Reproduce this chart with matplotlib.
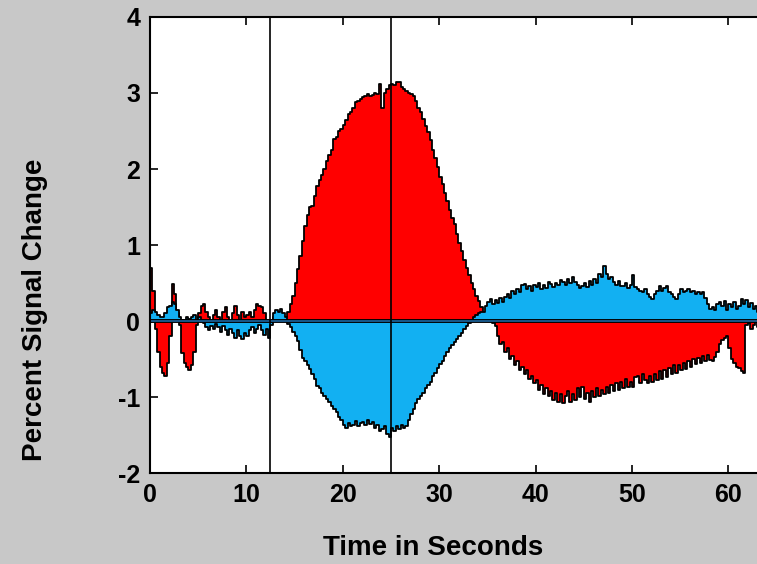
import numpy as np
import matplotlib.pyplot as plt

# percent signal change, sampled every 0.25 s
step = 0.25

red_signal = [
    0.70, 0.40, -0.10, -0.40, -0.60, -0.68, -0.72, -0.55, -0.20, 0.49, 0.35, 0.10, -0.05, -0.42, -0.55, -0.60, -0.64, -0.58, -0.40, -0.05,
    0.10, 0.20, 0.22, 0.12, 0.05, -0.05, 0.08, 0.15, 0.05, -0.08, 0.12, 0.18, 0.05, -0.05, 0.10, 0.20, 0.08, -0.02, 0.12, 0.05,
    0.08, 0.12, 0.05, 0.15, 0.22, 0.20, 0.18, 0.10, 0.02, -0.05, 0.00, 0.05, 0.02, 0.05, 0.08, 0.04, 0.05, 0.12, 0.22, 0.33,
    0.50, 0.68, 0.86, 1.05, 1.25, 1.40, 1.50, 1.52, 1.65, 1.78, 1.86, 1.92, 2.00, 2.10, 2.18, 2.25, 2.40, 2.42, 2.50, 2.53,
    2.58, 2.65, 2.72, 2.75, 2.80, 2.88, 2.90, 2.92, 2.95, 2.96, 2.98, 2.96, 2.97, 3.00, 2.98, 3.12, 2.80, 3.00, 3.05, 3.10,
    3.12, 3.10, 3.15, 3.14, 3.08, 3.05, 3.02, 3.00, 2.98, 2.96, 2.90, 2.80, 2.75, 2.66, 2.57, 2.49, 2.38, 2.25, 2.15, 2.02,
    1.90, 1.80, 1.68, 1.58, 1.46, 1.36, 1.28, 1.15, 1.03, 0.92, 0.80, 0.70, 0.60, 0.50, 0.42, 0.33, 0.26, 0.18, 0.05, 0.10,
    0.02, 0.00, -0.02, -0.06, -0.20, -0.30, -0.28, -0.40, -0.36, -0.50, -0.46, -0.58, -0.52, -0.64, -0.60, -0.70, -0.64, -0.76, -0.72, -0.82,
    -0.78, -0.90, -0.84, -0.96, -0.88, -0.98, -0.92, -1.04, -0.94, -1.06, -0.96, -1.08, -0.98, -0.92, -1.06, -0.96, -1.04, -0.88, -1.00, -0.86,
    -1.02, -0.94, -1.06, -0.92, -1.00, -0.88, -0.98, -0.90, -0.96, -0.86, -0.94, -0.84, -0.92, -0.82, -0.90, -0.80, -0.88, -0.76, -0.86, -0.80,
    -0.86, -0.74, -0.72, -0.82, -0.70, -0.78, -0.82, -0.72, -0.80, -0.70, -0.78, -0.66, -0.76, -0.64, -0.74, -0.62, -0.70, -0.58, -0.68, -0.58,
    -0.64, -0.55, -0.63, -0.52, -0.60, -0.50, -0.57, -0.48, -0.55, -0.46, -0.53, -0.45, -0.51, -0.53, -0.47, -0.40, -0.30, -0.25, -0.22, -0.20,
    -0.35, -0.50, -0.55, -0.60, -0.62, -0.66, -0.68, -0.05, -0.02, -0.10, -0.05, 0.05, -0.08, 0.10, 0.05,
]

blue_signal = [
    0.10, 0.15, 0.12, 0.08, 0.06, 0.05, 0.10, 0.18, 0.20, 0.25, 0.22, 0.15, 0.05, 0.02, 0.00, 0.05, 0.03, 0.05, 0.08, 0.02,
    0.05, 0.02, -0.03, -0.08, -0.12, -0.06, -0.10, -0.04, -0.08, -0.14, -0.06, -0.12, -0.18, -0.10, -0.16, -0.22, -0.12, -0.20, -0.24, -0.15,
    -0.20, -0.12, -0.08, -0.15, -0.10, -0.05, -0.12, -0.18, -0.10, -0.22, -0.05, 0.10, 0.15, 0.12, 0.16, 0.10, 0.05, -0.04, -0.08, -0.14,
    -0.20, -0.26, -0.38, -0.48, -0.52, -0.58, -0.63, -0.70, -0.76, -0.85, -0.88, -0.95, -0.98, -1.02, -1.06, -1.12, -1.16, -1.20, -1.26, -1.30,
    -1.36, -1.40, -1.34, -1.38, -1.36, -1.32, -1.38, -1.34, -1.33, -1.36, -1.30, -1.35, -1.33, -1.40, -1.36, -1.44, -1.42, -1.38, -1.48, -1.53,
    -1.40, -1.45, -1.38, -1.42, -1.36, -1.40, -1.38, -1.30, -1.22, -1.16, -1.08, -1.02, -0.98, -0.94, -0.88, -0.84, -0.80, -0.72, -0.68, -0.62,
    -0.56, -0.52, -0.46, -0.41, -0.36, -0.32, -0.28, -0.24, -0.20, -0.15, -0.10, -0.06, -0.02, 0.02, 0.05, 0.08, 0.10, 0.12, 0.12, 0.20,
    0.25, 0.29, 0.22, 0.28, 0.24, 0.30, 0.25, 0.32, 0.35, 0.30, 0.40, 0.36, 0.42, 0.38, 0.48, 0.49, 0.42, 0.46, 0.40, 0.47,
    0.45, 0.50, 0.42, 0.48, 0.44, 0.52, 0.49, 0.45, 0.50, 0.47, 0.54, 0.51, 0.48, 0.55, 0.50, 0.58, 0.52, 0.48, 0.44, 0.46,
    0.50, 0.45, 0.53, 0.48, 0.55, 0.50, 0.62, 0.58, 0.73, 0.62, 0.55, 0.58, 0.51, 0.48, 0.53, 0.46, 0.46, 0.50, 0.44, 0.48,
    0.60, 0.45, 0.42, 0.40, 0.38, 0.42, 0.35, 0.32, 0.29, 0.35, 0.40, 0.46, 0.40, 0.44, 0.46, 0.38, 0.35, 0.32, 0.29, 0.36,
    0.42, 0.38, 0.40, 0.42, 0.38, 0.40, 0.36, 0.38, 0.35, 0.38, 0.30, 0.22, 0.16, 0.18, 0.15, 0.22, 0.25, 0.20, 0.27, 0.15,
    0.22, 0.18, 0.25, 0.16, 0.20, 0.29, 0.22, 0.28, 0.18, 0.24, 0.16, 0.20, 0.12, 0.18, 0.14,
]

event_times = [12.5, 25]
x_ticks = [0, 10, 20, 30, 40, 50, 60]
y_ticks = [-2, -1, 0, 1, 2, 3, 4]

t = np.arange(len(red_signal)) * step
red = np.array(red_signal)
blue = np.array(blue_signal)

plt.rcParams['font.family'] = ['Liberation Sans', 'DejaVu Sans']
plt.rcParams['font.weight'] = 'bold'
plt.rcParams['axes.unicode_minus'] = False

fig = plt.figure(figsize=(7.57, 5.64), dpi=100, facecolor='#c8c8c8')
ax = fig.add_axes([0.198, 0.161, 0.828, 0.809])
ax.set_facecolor('white')

ax.fill_between(t, red, 0, step='post', facecolor='#ff0000', edgecolor='black', linewidth=1.3)
ax.fill_between(t, blue, 0, step='post', facecolor='#12b0f2', edgecolor='black', linewidth=1.3)

ax.axhline(0, color='black', linewidth=2.8)
ax.axhline(0, color='#1f6fae', linewidth=1.1)

for ev in event_times:
    ax.axvline(ev, color='black', linewidth=1.2)

ax.set_xlim(0, 65)
ax.set_ylim(-2, 4)
ax.set_xticks(x_ticks)
ax.set_yticks(y_ticks)
ax.tick_params(direction='in', length=6, width=1.2, labelsize=18, pad=7,
               top=True, right=True)
for sp in ax.spines.values():
    sp.set_linewidth(1.5)

ax.set_xlabel('Time in Seconds', fontsize=20, fontweight='bold')
ax.set_ylabel('Percent Signal Change', fontsize=20, fontweight='bold')
ax.xaxis.label.set_verticalalignment('center')
ax.yaxis.label.set_verticalalignment('center')
ax.xaxis.set_label_coords(0.452, -0.164)
ax.yaxis.set_label_coords(-0.183, 0.357)

fig.savefig('out.png', dpi=100, facecolor=fig.get_facecolor())
